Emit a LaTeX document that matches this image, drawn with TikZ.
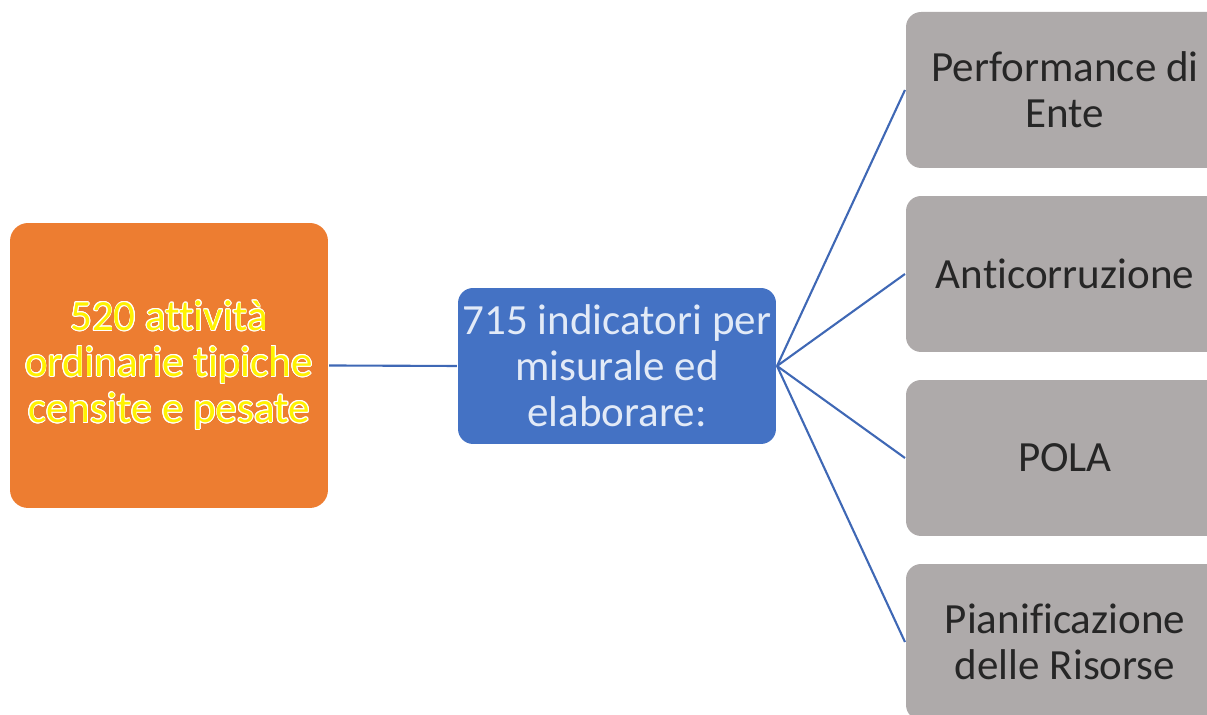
\documentclass[tikz,border=0pt]{standalone}
\usepackage{fontspec}
\setmainfont{Carlito}[Ligatures=NoCommon]
\usepackage{contour}
\contourlength{0.45pt}
\usetikzlibrary{positioning}

\definecolor{actorange}{HTML}{ED7D31}
\definecolor{indblue}{HTML}{4472C4}
\definecolor{outgray}{HTML}{AEAAAA}
\definecolor{indtext}{HTML}{E2EAF7}
\definecolor{outtext}{HTML}{262626}
\definecolor{linkblue}{HTML}{3F68B5}

\begin{document}
\begin{tikzpicture}
[x=0.02cm, y=0.02cm, line width=1.2pt,
actbox/.style={rectangle, rounded corners=0.36cm, fill=actorange, inner sep=0pt, minimum width=6.36cm, minimum height=5.7cm, align=center, font=\fontsize{24.5}{26.2}\selectfont, text=yellow},
indbox/.style={rectangle, rounded corners=0.3cm, fill=indblue, inner sep=0pt, minimum width=6.36cm, minimum height=3.12cm, align=center, font=\fontsize{24.5}{26.2}\selectfont, text=indtext},
outbox/.style={rectangle, rounded corners=0.3cm, fill=outgray, inner sep=0pt, minimum width=6.36cm, minimum height=3.12cm, align=center, font=\fontsize{24.5}{26.2}\selectfont, text=outtext},
link/.style={draw=linkblue}]

\useasboundingbox (0,0) rectangle (1207,715);
\clip (0,0) rectangle (1207,715);

\node[actbox] (act) at (169,349.5) {\contour{white}{520 attività}\\\contour{white}{ordinarie tipiche}\\\contour{white}{censite e pesate}};

\node[indbox] (ind) at (617,349) {715 indicatori per\\misurale ed\\elaborare:};

\node[outbox] (out1) at (1065,625) {Performance di\\Ente};
\node[outbox] (out2) at (1065,441) {Anticorruzione};
\node[outbox] (out3) at (1065,257) {POLA};
\node[outbox] (out4) at (1065,73) {Pianificazione\\delle Risorse};

\draw[link] (act.east) -- (ind.west);
\draw[link] (ind.east) -- (out1.west);
\draw[link] (ind.east) -- (out2.west);
\draw[link] (ind.east) -- (out3.west);
\draw[link] (ind.east) -- (out4.west);

\end{tikzpicture}
\end{document}
